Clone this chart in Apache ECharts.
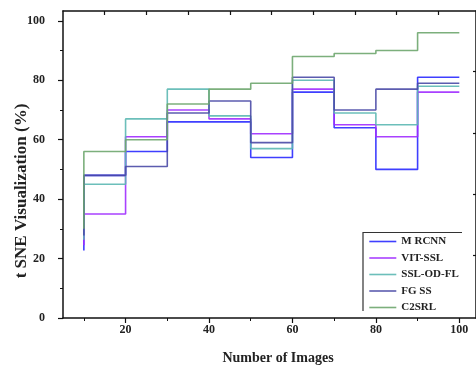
<!DOCTYPE html>
<html>
<head>
<meta charset="utf-8">
<script src="https://cdn.jsdelivr.net/npm/echarts@6/dist/echarts.min.js"></script>
<style>
html,body{margin:0;padding:0;background:#fff;}
#c{width:476px;height:369px;}
</style>
</head>
<body>
<div id="c"></div>
<script>
// ---- data ----
const xValues = [10, 20, 30, 40, 50, 60, 70, 80, 90, 100];
const seriesNames = ['M RCNN', 'VIT-SSL', 'SSL-OD-FL', 'FG SS', 'C2SRL'];
const mrcnn   = [22.7, 48, 56, 66, 66, 54, 76, 64, 50, 81];
const vitSsl  = [24.5, 35, 61, 70, 67, 62, 77, 65, 61, 76];
const sslOdFl = [26.3, 45, 67, 77, 68, 57, 80, 69, 65, 78];
const fgss    = [27.8, 48, 51, 69, 73, 59, 81, 70, 77, 79];
const c2srl   = [30, 56, 60, 72, 77, 79, 88, 89, 90, 96];
const xTickLabels = [20, 40, 60, 80, 100];
const xMinorTicks = [10, 30, 50, 70, 90];
const xTopTicks = [15, 25, 35, 45, 55, 65, 75, 85, 95];
const yTickLabels = [0, 20, 40, 60, 80, 100];
const yMinorTicks = [10, 30, 50, 70, 90];
const yRightTicks = [21, 41.5, 62, 83];

const colors = ['#2a2aff', '#a02cff', '#5cb8b2', '#4a4aa6', '#6ea66e'];
const allValues = [mrcnn, vitSsl, sslOdFl, fgss, c2srl];

const FONT = '"Liberation Serif", "Times New Roman", serif';
const chart = echarts.init(document.getElementById('c'), null, {renderer: 'canvas'});

const XMIN = 5, XMAX = 104, YMIN = 0, YMAX = 103.3;
const axisLineStyle = {color: '#111', width: 1.5};

const option = {
  animation: false,
  grid: {left: 63, top: 11, right: 0, bottom: 51, containLabel: false},
  xAxis: [
    {
      type: 'value', position: 'bottom', min: XMIN, max: XMAX,
      axisLine: {show: true, onZero: false, lineStyle: axisLineStyle},
      axisTick: {show: true, inside: false, length: 5, customValues: xTickLabels, lineStyle: {color: '#111', width: 1.2}},
      axisLabel: {show: true, customValues: xTickLabels, margin: 6, color: '#222',
        fontFamily: FONT, fontWeight: 'bold', fontSize: 12},
      splitLine: {show: false}
    },
    {
      type: 'value', position: 'bottom', min: XMIN, max: XMAX,
      axisLine: {show: false},
      axisTick: {show: true, inside: false, length: 3, customValues: xMinorTicks, lineStyle: {color: '#111', width: 1}},
      axisLabel: {show: false},
      splitLine: {show: false}
    },
    {
      type: 'value', position: 'top', min: XMIN, max: XMAX,
      axisLine: {show: true, onZero: false, lineStyle: axisLineStyle},
      axisTick: {show: true, inside: true, length: 4, customValues: xTopTicks, lineStyle: {color: '#111', width: 1.2}},
      axisLabel: {show: false},
      splitLine: {show: false}
    }
  ],
  yAxis: [
    {
      type: 'value', position: 'left', min: YMIN, max: YMAX,
      axisLine: {show: true, onZero: false, lineStyle: axisLineStyle},
      axisTick: {show: true, inside: false, length: 5, customValues: yTickLabels, lineStyle: {color: '#111', width: 1.2}},
      axisLabel: {show: true, customValues: yTickLabels, margin: 18, color: '#222',
        fontFamily: FONT, fontWeight: 'bold', fontSize: 12},
      splitLine: {show: false}
    },
    {
      type: 'value', position: 'left', min: YMIN, max: YMAX,
      axisLine: {show: false},
      axisTick: {show: true, inside: false, length: 3, customValues: yMinorTicks, lineStyle: {color: '#111', width: 1}},
      axisLabel: {show: false},
      splitLine: {show: false}
    },
    {
      type: 'value', position: 'right', min: YMIN, max: YMAX,
      axisLine: {show: true, onZero: false, lineStyle: axisLineStyle},
      axisTick: {show: true, inside: true, length: 3, customValues: yRightTicks, lineStyle: {color: '#111', width: 1.2}},
      axisLabel: {show: false},
      splitLine: {show: false}
    }
  ],
  legend: {
    show: true,
    orient: 'vertical',
    left: 363, top: 232,
    padding: [4, 4, 4, 5.5],
    itemWidth: 27, itemHeight: 10, itemGap: 5.5,
    data: seriesNames,
    itemStyle: {opacity: 0},
    lineStyle: {width: 1.6},
    textStyle: {fontFamily: FONT, fontWeight: 'bold', fontSize: 11, color: '#222'}
  },
  graphic: [
    {
      type: 'polyline', silent: true,
      shape: {points: [[363, 311], [363, 232.5], [462, 232.5]]},
      style: {stroke: '#333', lineWidth: 1.2, fill: null}
    },
    {
      type: 'text', x: 22, y: 191, rotation: Math.PI / 2, silent: true,
      style: {text: 't SNE Visualization (%)', x: 0, y: 0, textAlign: 'center', textVerticalAlign: 'middle',
        font: 'bold 17px ' + FONT, fill: '#222'}
    },
    {
      type: 'text', x: 278, y: 358, silent: true,
      style: {text: 'Number of Images', x: 0, y: 0, textAlign: 'center', textVerticalAlign: 'middle',
        font: 'bold 14px ' + FONT, fill: '#222'}
    }
  ],
  series: seriesNames.map((name, i) => ({
    name: name,
    type: 'line',
    step: 'start',
    xAxisIndex: 0, yAxisIndex: 0,
    symbol: 'none',
    data: xValues.map((x, j) => [x, allValues[i][j]]),
    lineStyle: {color: colors[i], width: 1.6, opacity: 0.9},
    itemStyle: {color: colors[i]},
    z: 2 + i
  }))
};
chart.setOption(option);
</script>
</body>
</html>
